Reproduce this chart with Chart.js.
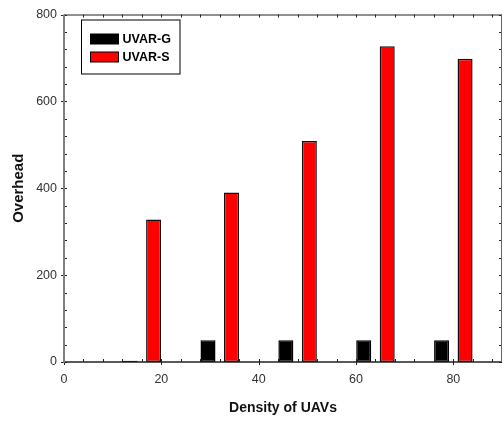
<!DOCTYPE html>
<html>
<head>
<meta charset="utf-8">
<script src="https://cdn.jsdelivr.net/npm/chart.js@4/dist/chart.umd.min.js"></script>
<style>
html,body{margin:0;padding:0;background:#fff;}
canvas{display:block;}
</style>
</head>
<body>
<canvas id="c" width="504" height="421"></canvas>
<script>
const densities = [16, 32, 48, 64, 80];
const uvarG = [3, 50, 50, 50, 50];
const uvarS = [328, 390, 509, 727, 698];
const seriesNames = ['UVAR-G', 'UVAR-S'];
const xTickValues = [0, 20, 40, 60, 80];
const yTickValues = [0, 200, 400, 600, 800];
const xTitle = 'Density of UAVs';
const yTitle = 'Overhead';

const FONT = '"Liberation Sans", Arial, sans-serif';

const framePlugin = {
  id: 'frame',
  afterDraw(chart) {
    const ctx = chart.ctx;
    const a = chart.chartArea;
    const xs = chart.scales.x, ys = chart.scales.y;
    ctx.save();
    ctx.lineWidth = 1;
    ctx.strokeStyle = '#222';
    for (let v = xs.min; v <= xs.max + 1e-9; v += 4) {
      const px = Math.round(xs.getPixelForValue(v)) + 0.5;
      const major = xTickValues.includes(v);
      ctx.beginPath();
      ctx.moveTo(px, a.bottom + (major ? 3 : 0));
      ctx.lineTo(px, a.bottom - 3);
      ctx.moveTo(px, a.top);
      ctx.lineTo(px, a.top + 3);
      ctx.stroke();
    }
    for (let v = ys.min; v <= ys.max + 1e-9; v += 40) {
      const py = Math.round(ys.getPixelForValue(v)) + 0.5;
      const major = yTickValues.includes(v);
      ctx.beginPath();
      ctx.moveTo(a.left - (major ? 3 : 0), py);
      ctx.lineTo(a.left + 3, py);
      ctx.moveTo(a.right, py);
      ctx.lineTo(a.right - 3, py);
      ctx.stroke();
    }
    ctx.strokeStyle = '#222';
    ctx.lineWidth = 1;
    ctx.beginPath();
    ctx.moveTo(a.left, a.top + 0.5);
    ctx.lineTo(a.right, a.top + 0.5);
    ctx.stroke();
    ctx.lineWidth = 1.5;
    ctx.beginPath();
    ctx.moveTo(a.left, a.bottom);
    ctx.lineTo(a.right, a.bottom);
    ctx.stroke();
    ctx.strokeStyle = '#666';
    ctx.lineWidth = 1;
    ctx.beginPath();
    ctx.moveTo(a.right - 0.5, a.top);
    ctx.lineTo(a.right - 0.5, a.bottom);
    ctx.stroke();
    ctx.strokeStyle = '#808080';
    ctx.lineWidth = 2;
    ctx.beginPath();
    ctx.moveTo(a.left, a.top);
    ctx.lineTo(a.left, a.bottom + 0.75);
    ctx.stroke();

    // legend
    const bx = a.left + 17.5, by = a.top + 5.5, bw = 98.5, bh = 54;
    ctx.fillStyle = '#fff';
    ctx.fillRect(bx, by, bw, bh);
    ctx.strokeStyle = '#000';
    ctx.lineWidth = 1;
    ctx.strokeRect(bx, by, bw, bh);
    ctx.font = 'bold 12.5px ' + FONT;
    ctx.textBaseline = 'middle';
    ctx.textAlign = 'left';
    chart.data.datasets.forEach((ds, i) => {
      const cy = by + 19 + i * 18;
      ctx.fillStyle = ds.backgroundColor;
      ctx.fillRect(bx + 9, cy - 5, 28, 10);
      ctx.strokeStyle = '#000';
      ctx.strokeRect(bx + 9, cy - 5, 28, 10);
      ctx.fillStyle = '#000';
      ctx.fillText(ds.label, bx + 41, cy + 0.5);
    });
    ctx.restore();
  }
};

new Chart(document.getElementById('c'), {
  type: 'bar',
  data: {
    datasets: [
      {
        label: seriesNames[0],
        data: densities.map((d, i) => ({x: d, y: uvarG[i]})),
        backgroundColor: '#000000',
        borderColor: '#000000',
        borderWidth: 1.5,
        borderSkipped: false,
        categoryPercentage: 0.603,
        barPercentage: 0.64
      },
      {
        label: seriesNames[1],
        data: densities.map((d, i) => ({x: d, y: uvarS[i]})),
        backgroundColor: '#ff0000',
        borderColor: '#111111',
        borderWidth: 1.5,
        borderSkipped: false,
        categoryPercentage: 0.603,
        barPercentage: 0.64
      }
    ]
  },
  options: {
    responsive: false,
    animation: false,
    layout: {padding: {top: 12, right: 2, left: 0, bottom: 0}},
    plugins: {legend: {display: false}, tooltip: {enabled: false}},
    scales: {
      x: {
        type: 'linear',
        min: 0, max: 90,
        offset: false,
        grid: {display: false, drawTicks: false},
        border: {display: false},
        afterBuildTicks(scale) { scale.ticks = xTickValues.map(v => ({value: v})); },
        afterFit(scale) { scale.height = 59; },
        ticks: {
          color: '#333',
          font: {family: FONT, size: 12.5},
          padding: 10,
          maxRotation: 0
        },
        title: {
          display: true,
          text: xTitle,
          color: '#111',
          font: {family: FONT, size: 14, weight: 'bold'},
          padding: {top: 0, bottom: 4.6}
        }
      },
      y: {
        min: 0, max: 800,
        grid: {display: false, drawTicks: false},
        border: {display: false},
        afterBuildTicks(scale) { scale.ticks = yTickValues.map(v => ({value: v})); },
        afterFit(scale) { scale.width = 64; },
        ticks: {
          color: '#333',
          font: {family: FONT, size: 12.5},
          padding: 7
        },
        title: {
          display: true,
          text: yTitle,
          color: '#111',
          font: {family: FONT, size: 15, weight: 'bold'},
          padding: {top: 9.5, bottom: 0}
        }
      }
    }
  },
  plugins: [framePlugin]
});
</script>
</body>
</html>
